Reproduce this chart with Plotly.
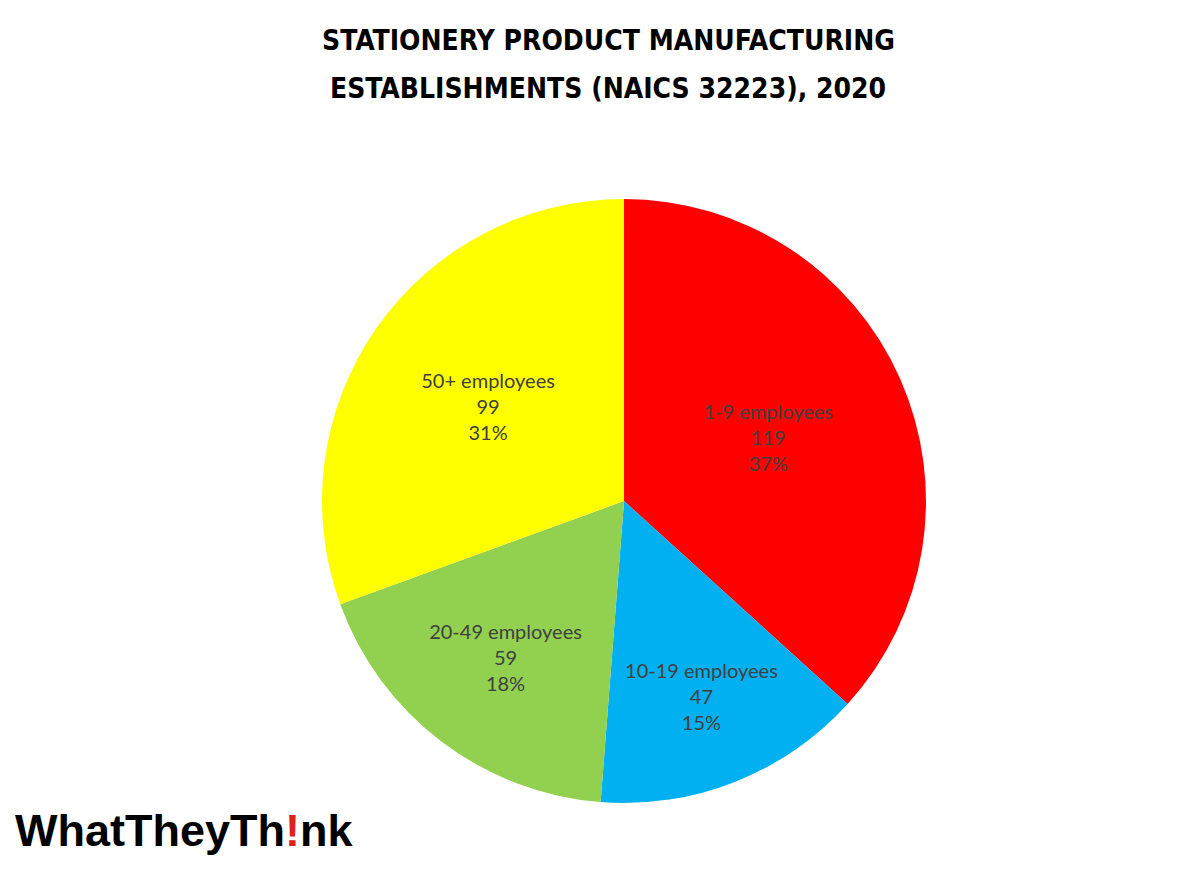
import plotly.graph_objects as go

categories = ["1-9 employees", "10-19 employees", "20-49 employees", "50+ employees"]
values = [119, 47, 59, 99]
colors = ["#FF0000", "#00B0F0", "#92D050", "#FFFF00"]
title_lines = ["STATIONERY PRODUCT MANUFACTURING", "ESTABLISHMENTS (NAICS 32223), 2020"]

fig = go.Figure(go.Pie(
    labels=categories,
    values=values,
    sort=False,
    direction="clockwise",
    rotation=0,
    marker=dict(colors=colors, line=dict(width=0)),
    texttemplate="%{label}<br>%{value}<br>%{percent:.0%}",
    textposition="inside",
    insidetextorientation="horizontal",
    insidetextfont=dict(family="Lato", size=20, color="#404040"),
    hoverinfo="label+value+percent",
    showlegend=False,
    domain=dict(x=[0.2617, 0.7650], y=[0.0883, 0.7809]),
))

title_font = dict(family="'DejaVu Sans Condensed', 'Liberation Sans Narrow', 'DejaVu Sans', sans-serif",
                  size=28, color="black")
annotations = []
for i, line in enumerate(title_lines):
    annotations.append(dict(text="<b>" + line + "</b>",
                            x=0.5, y=1 - (33 + 48 * i) / 872, xref="paper", yref="paper",
                            xanchor="center", yanchor="middle", showarrow=False,
                            font=title_font))
annotations.append(dict(text="<b>WhatTheyTh<span style='color:#E0201B'>!</span>nk</b>",
                        x=0.004, y=0.025, xref="paper", yref="paper",
                        xanchor="left", yanchor="bottom", showarrow=False,
                        font=dict(family="'Liberation Sans', Arial, sans-serif", size=45, color="black")))

fig.update_layout(
    width=1200, height=872,
    margin=dict(l=0, r=0, t=0, b=0),
    paper_bgcolor="white",
    plot_bgcolor="white",
    annotations=annotations,
)

fig.write_html("out.html")
